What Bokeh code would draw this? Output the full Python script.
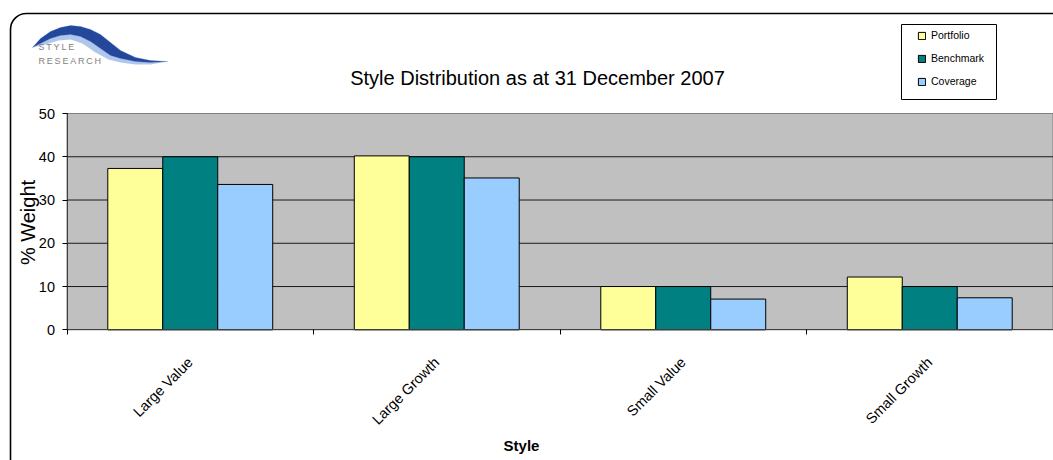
import numpy as np
from bokeh.plotting import figure
from bokeh.models import (ColumnDataSource, FixedTicker, Range1d, Label, Legend, LegendItem,
                          BoxAnnotation, PolyAnnotation, LinearAxis)
from bokeh.transform import dodge
from bokeh.embed import file_html
from bokeh.resources import INLINE

# ---- data ----
categories = ["Large Value", "Large Growth", "Small Value", "Small Growth"]
portfolio = [37.3, 40.2, 10.0, 12.2]
benchmark = [40.0, 40.0, 10.0, 10.0]
coverage = [33.6, 35.1, 7.1, 7.4]
series_names = ["Portfolio", "Benchmark", "Coverage"]
y_ticks = [0, 10, 20, 30, 40, 50]
y_max = 50

FONT = "'Liberation Sans', Arial, sans-serif"

W, H = 1053, 460
# plot-area pixel box inside the canvas
PL, PR, PT, PB = 66.5, 1052.5, 113.0, 329.3
ncat = len(categories)
xs = (PR - PL) / ncat
ys = (PB - PT) / y_max

src = ColumnDataSource(dict(x=np.arange(ncat) + 0.5,
                            portfolio=portfolio, benchmark=benchmark, coverage=coverage))

p = figure(width=W, height=H, output_backend="svg", toolbar_location=None,
           x_range=Range1d(-PL / xs, ncat + (W - PR) / xs),
           y_range=Range1d(-(H - PB) / ys, y_max + PT / ys),
           x_axis_type=None, y_axis_type=None,
           min_border=0, min_border_left=0, min_border_right=0, min_border_top=0, min_border_bottom=0)
p.background_fill_color = "white"
p.border_fill_color = "white"
p.outline_line_color = None
p.grid.visible = False


def sy(y):  # canvas y (from top) -> screen units (from bottom)
    return H - y


# outer rounded border
p.add_layout(BoxAnnotation(left=10, right=1150, top=sy(13), bottom=-100,
                           left_units="screen", right_units="screen", top_units="screen",
                           bottom_units="screen", fill_color=None, line_color="black",
                           line_alpha=1, line_width=1.6, border_radius=16, level="underlay"))

# plot area
p.add_layout(BoxAnnotation(left=0, right=ncat, bottom=0, top=y_max, fill_color="#C0C0C0",
                           fill_alpha=1, line_color="#808080", line_alpha=1, line_width=1,
                           level="underlay"))

# gridlines
gy = [t for t in y_ticks if 0 < t < y_max]
p.segment(x0=[0] * len(gy), x1=[ncat] * len(gy), y0=gy, y1=gy, line_color="#1a1a1a", line_width=1)

bw = 0.223
colors = ["#FFFF99", "#008080", "#99CCFF"]
fields = ["portfolio", "benchmark", "coverage"]
renderers = []
for i, (f, c) in enumerate(zip(fields, colors)):
    r = p.vbar(x=dodge("x", (i - 1) * bw, range=p.x_range), top=f, width=bw, bottom=0,
               source=src, fill_color=c, line_color="black", line_width=1)
    renderers.append(r)

# y axis
yax = LinearAxis(fixed_location=0, bounds=(0, y_max), ticker=FixedTicker(ticks=y_ticks))
yax.axis_line_color = "#404040"
yax.major_tick_line_color = "black"
yax.major_tick_out = 5
yax.major_tick_in = 0
yax.minor_tick_line_color = None
yax.major_label_text_font = FONT
yax.major_label_text_font_size = "14.5px"
yax.major_label_text_color = "black"
yax.major_label_standoff = 7
p.add_layout(yax, "left")

# x axis
centers = list(np.arange(ncat) + 0.5)
xax = LinearAxis(fixed_location=0, bounds=(0, ncat),
                 ticker=FixedTicker(ticks=centers, minor_ticks=list(range(ncat + 1))))
xax.major_label_overrides = {c: n for c, n in zip(centers, categories)}
xax.major_tick_line_color = None
xax.minor_tick_line_color = "black"
xax.minor_tick_out = 5
xax.minor_tick_in = 0
xax.axis_line_color = "#404040"
xax.major_label_orientation = np.pi / 4
xax.major_label_text_font = FONT
xax.major_label_text_font_size = "14.5px"
xax.major_label_text_color = "black"
xax.major_label_standoff = 24
p.add_layout(xax, "below")

# texts
p.add_layout(Label(x=537, y=sy(77), x_units="screen", y_units="screen",
                   text="Style Distribution as at 31 December 2007", text_font=FONT,
                   text_font_size="20px", text_align="center", text_baseline="middle",
                   text_color="black"))
p.add_layout(Label(x=27, y=sy(222), x_units="screen", y_units="screen",
                   text="% Weight", text_font=FONT, text_font_size="20px", angle=np.pi / 2,
                   text_align="center", text_baseline="middle", text_color="black"))
p.add_layout(Label(x=521, y=sy(445), x_units="screen", y_units="screen",
                   text="Style", text_font=FONT, text_font_size="15px", text_font_style="bold",
                   text_align="center", text_baseline="middle", text_color="black"))

# logo swoosh (decoration)
up = [(32, 47), (40, 38), (50, 31), (60, 27), (70, 25), (80, 26), (90, 29), (100, 34), (110, 42),
      (120, 50), (135, 57), (150, 60), (167, 61)]
lo = [(150, 62), (135, 61), (120, 58), (110, 55), (100, 48), (90, 41), (80, 36), (70, 34),
      (60, 35), (50, 38), (40, 43)]
light = [(32, 47), (40, 43), (50, 38), (60, 35), (70, 34), (80, 36), (90, 41), (100, 48), (110, 55),
         (120, 58), (135, 61), (150, 62), (167, 61), (150, 64), (135, 64), (120, 62), (108, 59),
         (95, 52), (82, 43), (70, 39), (58, 40), (45, 44)]
p.add_layout(PolyAnnotation(xs=[a for a, b in light], ys=[sy(b) for a, b in light],
                            xs_units="screen", ys_units="screen", fill_color="#9DB8E6",
                            fill_alpha=0.8, line_color=None))
pts = up + lo
p.add_layout(PolyAnnotation(xs=[a for a, b in pts], ys=[sy(b) for a, b in pts],
                            xs_units="screen", ys_units="screen", fill_color="#23479B",
                            fill_alpha=1, line_color="#4A6FC0", line_alpha=0.6, line_width=0.5))
p.add_layout(Label(x=38, y=sy(46), x_units="screen", y_units="screen",
                   text="S\u2009T\u2009Y\u2009L\u2009E", text_font=FONT, text_font_size="9px",
                   text_color="#7f7f7f", text_baseline="middle"))
p.add_layout(Label(x=38, y=sy(60), x_units="screen", y_units="screen",
                   text="R\u2009E\u2009S\u2009E\u2009A\u2009R\u2009C\u2009H", text_font=FONT,
                   text_font_size="9px", text_color="#7f7f7f", text_baseline="middle"))

# legend box + legend
p.add_layout(BoxAnnotation(left=901, right=996, top=sy(24), bottom=sy(99),
                           left_units="screen", right_units="screen", top_units="screen",
                           bottom_units="screen", fill_color="white", fill_alpha=1,
                           line_color="black", line_alpha=1, line_width=1))
legend = Legend(items=[LegendItem(label=n, renderers=[r]) for n, r in zip(series_names, renderers)],
                location=(917, sy(88)), glyph_width=9, glyph_height=9,
                label_text_font=FONT, label_text_font_size="10.5px", label_height=14,
                label_text_color="black",
                spacing=9, padding=0, margin=0, label_standoff=5,
                border_line_color=None, background_fill_alpha=0)
p.add_layout(legend, "center")

open("out.html", "w").write(file_html(p, INLINE))
